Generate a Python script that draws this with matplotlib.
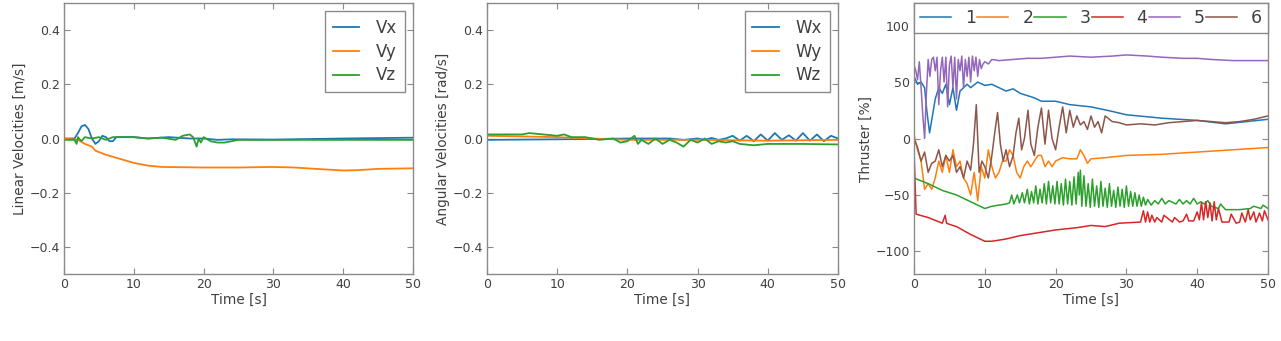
import matplotlib
matplotlib.use("Agg")
from matplotlib import pyplot as plt

# ---- linear velocities [m/s]
vx_t = [0, 1.5, 2, 2.5, 3, 3.5, 4, 4.5, 5, 5.5, 6, 6.5, 7, 7.5, 8, 10, 12, 15, 18, 20, 22, 24, 30, 40, 50]
vx_v = [0, 0, 0.02, 0.045, 0.05, 0.035, 0.0, -0.02, -0.01, 0.01, 0.005, -0.01, -0.01, 0.005, 0.005,
        0.005, 0.0, 0.005, 0.0, 0.0, -0.005, -0.003, -0.004, 0.0, 0.003]
vy_t = [0, 2, 3, 4, 4.5, 5, 6, 8, 10, 12, 14, 20, 25, 30, 33, 36, 40, 42, 45, 50]
vy_v = [0, -0.005, -0.02, -0.03, -0.045, -0.05, -0.06, -0.075, -0.09, -0.1, -0.105, -0.107, -0.107,
        -0.105, -0.107, -0.112, -0.118, -0.117, -0.112, -0.11]
vz_t = [0, 1.5, 1.8, 2, 2.5, 3, 4, 5, 6, 7, 8, 10, 12, 14, 16, 17, 18, 18.5, 19, 19.3, 19.6, 20,
        21, 22, 23, 24, 25, 30, 40, 50]
vz_v = [-0.005, -0.005, -0.02, 0.005, -0.01, 0.005, 0.0, 0.005, -0.005, 0.005, 0.005, 0.005, 0.0,
        0.003, -0.005, 0.01, 0.015, 0.005, -0.03, 0.0, -0.015, 0.005, -0.01, -0.015, -0.015, -0.01,
        -0.005, -0.005, -0.005, -0.005]

# ---- angular velocities [rad/s]
wx_t = [0, 10, 15, 20, 26, 28, 30, 31, 32, 33, 34, 35, 36, 37, 38, 39, 40, 41, 42, 43, 44, 45,
        46, 47, 48, 49, 50]
wx_v = [-0.005, -0.003, -0.002, 0.0, 0.0, -0.005, 0.0, -0.005, 0.002, -0.005, 0.0, 0.01, -0.008,
        0.01, -0.01, 0.015, -0.008, 0.02, -0.005, 0.012, -0.008, 0.02, -0.008, 0.015, -0.01, 0.01, 0.0]
wy_t = [0, 10, 15, 20, 25, 30, 40, 50]
wy_v = [0.01, 0.005, 0.0, -0.005, -0.005, -0.005, -0.008, -0.005]
wz_t = [0, 5, 6, 8, 10, 11, 12, 14, 16, 18, 19, 20, 21, 21.5, 22, 23, 24, 25, 26, 27, 28, 29,
        30, 31, 32, 33, 34, 35, 36, 38, 40, 45, 50]
wz_v = [0.015, 0.015, 0.02, 0.015, 0.01, 0.015, 0.005, 0.005, -0.005, 0.0, -0.015, -0.01, 0.01,
        -0.02, -0.005, -0.02, 0.0, -0.02, -0.005, -0.015, -0.03, -0.005, -0.015, 0.0, -0.02, -0.01,
        -0.015, -0.01, -0.02, -0.025, -0.02, -0.02, -0.022]

# ---- thrusters [%]
t1 = [0, 0.5, 1, 1.5, 1.8, 2.2, 2.6, 3, 3.5, 4, 4.5, 5, 5.5, 6, 6.5, 7, 7.5, 8, 9, 10, 11, 12, 13,
      14, 15, 16, 17, 18, 20, 22, 25, 28, 30, 35, 40, 44, 47, 50]
v1 = [55, 48, 50, 45, 25, 5, 20, 35, 45, 40, 48, 30, 45, 25, 42, 45, 48, 45, 50, 47, 48, 45, 42,
      44, 40, 38, 36, 33, 33, 30, 28, 24, 21, 18, 16, 13, 15, 17]
t2 = [0, 0.5, 1, 1.5, 2, 2.5, 3, 3.5, 4, 4.5, 5, 5.5, 6, 6.5, 7, 7.5, 8, 8.5, 9, 9.5, 10, 10.5, 11,
      11.5, 12, 12.5, 13, 13.5, 14, 14.5, 15, 15.5, 16, 16.5, 17, 17.5, 18, 18.5, 19, 19.5, 20, 21,
      22, 23, 23.5, 24, 24.5, 25, 27, 30, 35, 40, 45, 50]
v2 = [3, -10, -20, -45, -40, -45, -35, -20, -30, -15, -30, -10, -25, -20, -35, -40, -50, -30, -55,
      -25, -35, -10, -25, -35, -30, -20, -20, -10, -15, -30, -35, -25, -20, -25, -20, -15, -15, -25,
      -20, -25, -20, -17, -18, -18, -10, -15, -22, -18, -17, -15, -14, -12, -10, -8]
t3 = [0, 2, 4, 6, 8, 10, 11, 12, 13, 13.5,
      13.8, 14.1, 14.6, 14.9, 15.3, 15.6, 16.0, 16.3, 16.6, 16.9,
      17.2, 17.5, 17.8, 18.1, 18.4, 18.7, 19.0, 19.3, 19.6, 19.9,
      20.2, 20.5, 20.8, 21.1, 21.4, 21.7, 22.0, 22.3, 22.6, 22.9,
      23.2, 23.35, 23.5, 23.7, 24.0, 24.3, 24.6, 24.9, 25.2, 25.5,
      25.8, 26.1, 26.4, 26.7, 27.0, 27.3, 27.6, 27.9, 28.2, 28.5,
      28.8, 29.1, 29.4, 29.7, 30.0, 30.3, 30.6, 30.9, 31.2, 31.5,
      31.8, 32.1, 32.4, 32.7, 33.0, 33.5, 34.0, 34.5, 35.0, 35.5,
      36.0, 37.0, 37.5, 38.0, 38.5, 39.0, 39.5, 40.0, 40.5, 41.0,
      41.5, 42.0, 43.0, 43.3, 44.0, 46.0, 47.5, 48.0, 49.0, 49.3,
      50.0]
v3 = [-35, -40, -46, -50, -56, -62, -60, -59, -58, -57,
      -50, -58, -50, -57, -48, -57, -45, -58, -47, -57,
      -42, -58, -45, -57, -40, -58, -38, -57, -42, -58,
      -38, -58, -40, -59, -36, -58, -38, -59, -34, -58,
      -30, -50, -28, -60, -33, -60, -40, -61, -36, -60,
      -42, -61, -38, -60, -44, -61, -40, -60, -46, -61,
      -43, -60, -45, -61, -42, -60, -47, -60, -48, -60,
      -50, -60, -52, -59, -54, -59, -55, -58, -53, -58,
      -55, -58, -54, -58, -55, -58, -53, -58, -56, -58,
      -55, -60, -62, -58, -63, -63, -62, -60, -62, -59,
      -62]
t4 = [0, 0.3, 2, 4, 4.4, 4.6, 5, 6, 8, 10, 11, 13, 15, 18, 20, 23, 25, 27, 29, 32,
      32.4, 32.7, 33.0, 33.3, 33.6, 34.0, 34.3, 35.0, 35.3, 36.5, 36.8, 37.5, 38.0, 38.5, 38.8,
      39.5, 40.0, 40.3,
      40.6, 40.9, 41.2, 41.5, 41.8, 42.1, 42.4, 42.7, 43.0, 43.5, 44.5, 44.8, 45.5, 46.0, 46.3,
      46.8, 47.2, 47.5, 48.0, 48.3, 48.8, 49.2, 49.5, 50]
v4 = [-10, -67, -70, -75, -68, -75, -76, -78, -85, -91, -91, -89, -86, -83, -81, -79, -77, -78, -75, -74,
      -64, -74, -65, -74, -68, -74, -70, -74, -68, -74, -70, -74, -73, -67, -73, -73, -65, -72,
      -57, -72, -56, -70, -57, -73, -56, -72, -62, -74, -74, -67, -75, -74, -66, -74, -63, -72,
      -65, -74, -66, -73, -64, -72]
t5 = [0, 0.25, 0.5, 0.75, 1.0, 1.25, 1.5, 1.75, 2.0, 2.25, 2.5, 2.75, 3.0, 3.25, 3.5, 3.75, 4.0,
      4.25, 4.5, 4.75, 5.0, 5.25, 5.5, 5.75, 6.0, 6.25, 6.5, 6.75, 7.0, 7.25, 7.5, 7.75, 8.0, 8.25,
      8.5, 8.75, 9.0, 9.25, 9.5, 9.75, 10, 10.5, 11, 12, 14, 16, 18, 20, 22, 25, 28, 30, 33, 35, 38,
      40, 42, 45, 48, 50]
v5 = [65, 60, 52, 68, 45, 20, 0, 40, 70, 55, 70, 72, 60, 72, 30, 60, 72, 50, 72, 28, 65, 73, 45,
      72, 35, 70, 60, 73, 45, 70, 55, 72, 50, 73, 60, 72, 55, 70, 62, 66, 68, 66, 70, 69, 70, 71,
      71, 72, 73, 72, 73, 74, 73, 72, 71, 71, 70, 69, 69, 69]
t6 = [0, 0.5, 1, 1.5, 2, 2.5, 3, 3.5, 4, 4.5, 5, 5.5, 6, 6.5, 7, 7.5, 8, 8.4, 8.8, 9.2, 9.6, 10,
      10.5, 11, 11.4, 11.8, 12.2, 12.6, 13, 13.5, 14, 14.4, 14.8, 15.2, 15.6, 16.1, 16.5, 17, 17.5,
      18, 18.5, 19, 19.5, 20, 20.5, 21, 21.5, 22, 22.5, 23, 23.5, 24, 24.5, 25, 25.5, 26, 26.5, 27,
      28, 29, 30, 32, 34, 36, 38, 40, 42, 44, 46, 48, 50]
v6 = [0, -8, -20, -12, -30, -22, -20, -10, -25, -15, -20, -15, -30, -25, -35, -20, -28, -5, 30, -30,
      -20, -25, -35, -15, 5, 23, -5, -20, -10, -25, -15, 5, 18, -10, 0, 25, -5, -15, 10, 27, -5, 25,
      0, -10, 10, 28, 5, 25, 10, 20, 12, 15, 8, 20, 10, 15, 5, 20, 15, 14, 12, 13, 12, 14, 15, 16,
      15, 14, 15, 17, 20]

colors = ["#1f77b4", "#ff7f0e", "#2ca02c", "#d62728", "#9467bd", "#8c564b"]
frame = "#8a8a8a"
txt = "#404040"

plt.rcParams.update({
    "font.family": "DejaVu Sans",
    "xtick.direction": "in", "ytick.direction": "in",
    "xtick.top": True, "ytick.right": True,
    "xtick.color": frame, "ytick.color": frame,
    "xtick.labelcolor": txt, "ytick.labelcolor": txt,
    "xtick.labelsize": 9, "ytick.labelsize": 9,
    "xtick.major.size": 4, "ytick.major.size": 4,
    "axes.edgecolor": frame, "axes.linewidth": 1.0,
    "axes.labelcolor": txt, "axes.labelsize": 9.8,
})

fig = plt.figure(figsize=(12.81, 3.41), dpi=100)
W, H = 1281, 341


def box(x0, x1, y0=3, y1=274):
    return [x0 / W, (H - y1) / H, (x1 - x0) / W, (y1 - y0) / H]


def style(ax, ylim, yticks, ylabel):
    ax.set_xlim(0, 50)
    ax.set_ylim(*ylim)
    ax.set_xticks([0, 10, 20, 30, 40, 50])
    ax.set_yticks(yticks)
    ax.set_xlabel("Time [s]", labelpad=1)
    ax.set_ylabel(ylabel, labelpad=2)
    ax.tick_params(pad=3)


ax1 = fig.add_axes(box(64, 413))
ax1.plot(vx_t, vx_v, color=colors[0], lw=1.3, label="Vx")
ax1.plot(vy_t, vy_v, color=colors[1], lw=1.3, label="Vy")
ax1.plot(vz_t, vz_v, color=colors[2], lw=1.3, label="Vz")
style(ax1, (-0.5, 0.5), [-0.4, -0.2, 0.0, 0.2, 0.4], "Linear Velocities [m/s]")

ax2 = fig.add_axes(box(487, 838))
ax2.plot(wx_t, wx_v, color=colors[0], lw=1.3, label="Wx")
ax2.plot(wy_t, wy_v, color=colors[1], lw=1.3, label="Wy")
ax2.plot(wz_t, wz_v, color=colors[2], lw=1.3, label="Wz")
style(ax2, (-0.5, 0.5), [-0.4, -0.2, 0.0, 0.2, 0.4], "Angular Velocities [rad/s]")

for ax in (ax1, ax2):
    leg = ax.legend(loc="upper right", fontsize=12, handlelength=1.6, handletextpad=1.0,
                    borderpad=0.45, labelspacing=0.35, fancybox=False, framealpha=1)
    leg.get_frame().set_edgecolor(frame)
    for t in leg.get_texts():
        t.set_color(txt)

ax3 = fig.add_axes(box(914, 1268))
for tt, vv, c, lab in zip([t1, t2, t3, t4, t5, t6], [v1, v2, v3, v4, v5, v6], colors,
                          ["1", "2", "3", "4", "5", "6"]):
    ax3.plot(tt, vv, color=c, lw=1.1, label=lab)
style(ax3, (-120, 120), [-100, -50, 0, 50, 100], "Thruster [%]")
leg = ax3.legend(loc="upper center", bbox_to_anchor=(0, 0, 1, 1), mode="expand", ncol=6,
                 borderaxespad=0, fontsize=12.5, handlelength=1.8, handletextpad=0.8,
                 columnspacing=0.3, borderpad=0.35, fancybox=False, framealpha=1)
leg.get_frame().set_edgecolor(frame)
for t in leg.get_texts():
    t.set_color(txt)

fig.savefig("out.png", dpi=100)
